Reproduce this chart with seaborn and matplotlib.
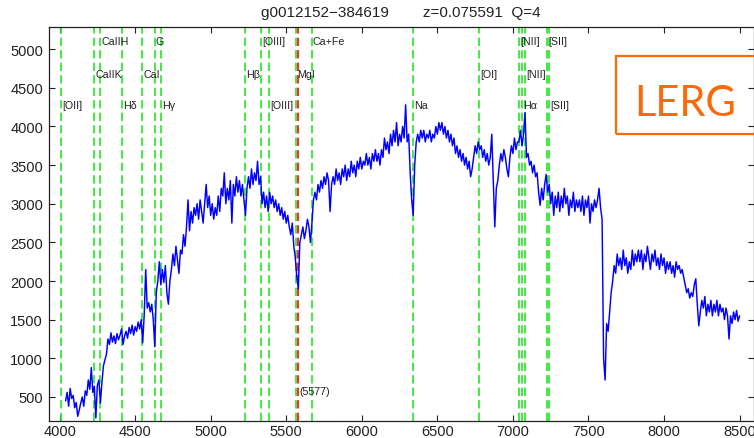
import numpy as np
import pandas as pd
import matplotlib
matplotlib.use("Agg")
import matplotlib.pyplot as plt
import seaborn as sns
from matplotlib.patches import Rectangle

# ---------------- data ----------------
title_id = "g0012152\u2212384619"
redshift = 0.075591
quality = 4

wave_start, wave_stop, wave_step = 4040, 8500, 10

flux = [
    # 4040-4230
    450, 560, 380, 610, 480, 520, 360, 430, 250, 330, 420, 500, 380, 580, 520, 720, 600, 880, 560, 640,
    # 4240-4430
    230, 650, 720, 420, 680, 900, 980, 1050, 1250, 1180, 1330, 1210, 1290, 1190, 1320, 1240, 1300, 1380, 1180, 1290,
    # 4440-4630
    1350, 1260, 1400, 1320, 1430, 1300, 1410, 1350, 1470, 1380, 1500, 1200, 1560, 2150, 1650, 1720, 1600, 1700, 1500, 1150,
    # 4640-4830
    1850, 2000, 2250, 1950, 2150, 1980, 2200, 1850, 1700, 2000, 2150, 2350, 2200, 2450, 2280, 2100, 2400, 2350, 2600, 2450,
    # 4840-5030
    2700, 3050, 2650, 2900, 2750, 2950, 2850, 3000, 2800, 3050, 2900, 2750, 3000, 3250, 2950, 3100, 2850, 3000, 2800, 2950,
    # 5040-5230
    2850, 3100, 2900, 3200, 3100, 3400, 3000, 3200, 3050, 3300, 2750, 3250, 3100, 3350, 3150, 3300, 3100, 3250, 3050, 2850,
    # 5240-5430
    3200, 3350, 3200, 3450, 3250, 3400, 3300, 3550, 3250, 3350, 3000, 3150, 2950, 3100, 2900, 3150, 3000, 3100, 2950, 3050,
    # 5440-5630
    2900, 3000, 2850, 2950, 2800, 2900, 2750, 2850, 2700, 2600, 2750, 2450, 2300, 2050, 1900, 2500, 2600, 2700, 2550, 2650,
    # 5640-5830
    2800, 2700, 2500, 2750, 3050, 3150, 3050, 3250, 3150, 3300, 3200, 3350, 3250, 3400, 3300, 2900, 3250, 3350, 3250, 3450,
    # 5840-6030
    3300, 3400, 3250, 3450, 3350, 3500, 3300, 3450, 3350, 3550, 3400, 3500, 3350, 3550, 3450, 3600, 3450, 3550, 3500, 3650,
    # 6040-6230
    3500, 3600, 3450, 3650, 3550, 3700, 3550, 3650, 3500, 3700, 3600, 3850, 3700, 3800, 3650, 3900, 3750, 3950, 3800, 4050,
    # 6240-6430
    3750, 3900, 3800, 4000, 3850, 4280, 3800, 3900, 3400, 3050, 2850, 3500, 3800, 3900, 3800, 3950, 3850, 3950, 3800, 3900,
    # 6440-6630
    3850, 3950, 3800, 3900, 3850, 4000, 3900, 4050, 3950, 4050, 3900, 4000, 3850, 3950, 3800, 3900, 3750, 3850, 3650, 3750,
    # 6640-6830
    3600, 3700, 3550, 3650, 3500, 3600, 3450, 3550, 3350, 3450, 3600, 3750, 3650, 3800, 3700, 3750, 3600, 3700, 3550, 3650,
    # 6840-7030
    3500, 3600, 3900, 3300, 2700, 3200, 3300, 3500, 3650, 3550, 3700, 3600, 3450, 3350, 3600, 3750, 3650, 3850, 3700, 3800,
    # 7040-7230
    3800, 3950, 3750, 3900, 4180, 3600, 3650, 3500, 3550, 3400, 3500, 3350, 3400, 3150, 2980, 3200, 3050, 3250, 3380, 3150,
    # 7240-7430
    3250, 3000, 3150, 2850, 3100, 2950, 3150, 2900, 3100, 2950, 3200, 3000, 3100, 2850, 3050, 2950, 3150, 2900, 3050, 2950,
    # 7440-7630
    3050, 2900, 3100, 2850, 3050, 2950, 3100, 2750, 3000, 2900, 3050, 2950, 3050, 3200, 2950, 2800, 1000, 720, 1450, 1350,
    # 7640-7830
    1600, 1850, 2000, 2200, 2100, 2350, 2200, 2300, 2150, 2400, 2200, 2300, 2100, 2250, 2150, 2400, 2200, 2350, 2250, 2400,
    # 7840-8030
    2250, 2400, 2150, 2350, 2250, 2450, 2300, 2150, 2350, 2250, 2400, 2200, 2300, 2150, 2350, 2200, 2300, 2100, 2250, 2150,
    # 8040-8230
    2250, 2100, 2200, 2050, 2250, 2150, 2200, 2100, 2150, 2050, 1950, 1850, 1900, 1780, 1850, 1800, 1950, 2030, 1700, 1420,
    # 8240-8430
    1600, 1750, 1650, 1800, 1550, 1700, 1600, 1750, 1550, 1700, 1600, 1750, 1550, 1700, 1600, 1650, 1500, 1650, 1550, 1250,
    # 8440-8500
    1550, 1450, 1600, 1500, 1620, 1480, 1550,
]

line_names = ["[OII]", "CaIIK", "CaIIH", "H\u03b4", "CaI", "G", "H\u03b3", "H\u03b2",
              "[OIII]", "[OIII]", "MgI", "Ca+Fe", "Na", "[OI]", "[NII]", "H\u03b1",
              "[NII]", "[SII]", "[SII]"]
line_rest = [3727.1, 3933.7, 3968.5, 4101.7, 4226.7, 4304.4, 4340.5, 4861.3,
             4958.9, 5006.8, 5175.4, 5269.0, 5892.5, 6300.3, 6548.0, 6562.8,
             6583.4, 6716.4, 6730.8]
sky_line = 5577
sky_label = "(5577)"

x_ticks = [4000, 4500, 5000, 5500, 6000, 6500, 7000, 7500, 8000, 8500]
y_ticks = [500, 1000, 1500, 2000, 2500, 3000, 3500, 4000, 4500, 5000]
badge = "LERG"

# ---------------- style ----------------
sns.set_style("ticks")
plt.rcParams["font.family"] = ["Liberation Sans", "DejaVu Sans"]
plt.rcParams["lines.scale_dashes"] = False

W, H = 754, 439
fig = plt.figure(figsize=(W / 100, H / 100), dpi=100)
ax_l, ax_r, ax_t, ax_b = 49, 753.5, 28, 421.7
ax = fig.add_axes([ax_l / W, 1 - ax_b / H, (ax_r - ax_l) / W, (ax_b - ax_t) / H])

green = "#22e622"
txt_col = "#222222"
row_levels = [4233, 4640, 5061]   # bottom, middle, top label baselines

for i, (name, rest) in enumerate(zip(line_names, line_rest)):
    xo = rest * (1 + redshift)
    ax.axvline(xo, color=green, lw=1.2, dashes=(6, 3), zorder=1)
    ax.text(xo + 7, row_levels[i % 3], name, fontsize=7.7, ha="left",
            va="baseline", color=txt_col, zorder=4)

ax.axvline(sky_line, color="#ff0000", lw=1.2, dashes=(6, 3), zorder=1.5)
ax.text(sky_line + 8, 534, sky_label, fontsize=7.7, ha="left",
        va="baseline", color=txt_col, zorder=4)

wave = np.arange(wave_start, wave_stop + 1, wave_step)
df = pd.DataFrame({"wave": wave, "flux": flux})
sns.lineplot(data=df, x="wave", y="flux", ax=ax, color="#0000ff", lw=1.05,
             estimator=None, sort=False, zorder=3)

ax.set_xlim(3930, 8592)
ax.set_ylim(193, 5287)
ax.set_xticks(x_ticks)
ax.set_yticks(y_ticks)
ax.set_xlabel("")
ax.set_ylabel("")
ax.tick_params(direction="in", top=True, right=True, length=4, width=0.8,
               labelsize=10.5, colors=txt_col, pad=4.3)
ax.tick_params(axis="x", pad=2.6)
for s in ax.spines.values():
    s.set_linewidth(0.9)
    s.set_color(txt_col)
    s.set_visible(True)

fig.text((ax_l + ax_r) / 2 / W, 1 - 13 / H,
         f"{title_id}        z={redshift:.6f}  Q={quality}",
         ha="center", va="center", fontsize=11, color=txt_col)

orange = "#fa6a0a"
fig.patches.append(Rectangle((615.7 / W, 1 - 135 / H), 150 / W, (135 - 57.3) / H,
                             transform=fig.transFigure, fill=False,
                             edgecolor=orange, lw=1.6, zorder=10))
fig.text(684.9 / W, 1 - 115.7 / H, badge, ha="center", va="baseline",
         fontsize=30, color=orange, family="Lato", zorder=11)

fig.savefig("out.png", dpi=100)
